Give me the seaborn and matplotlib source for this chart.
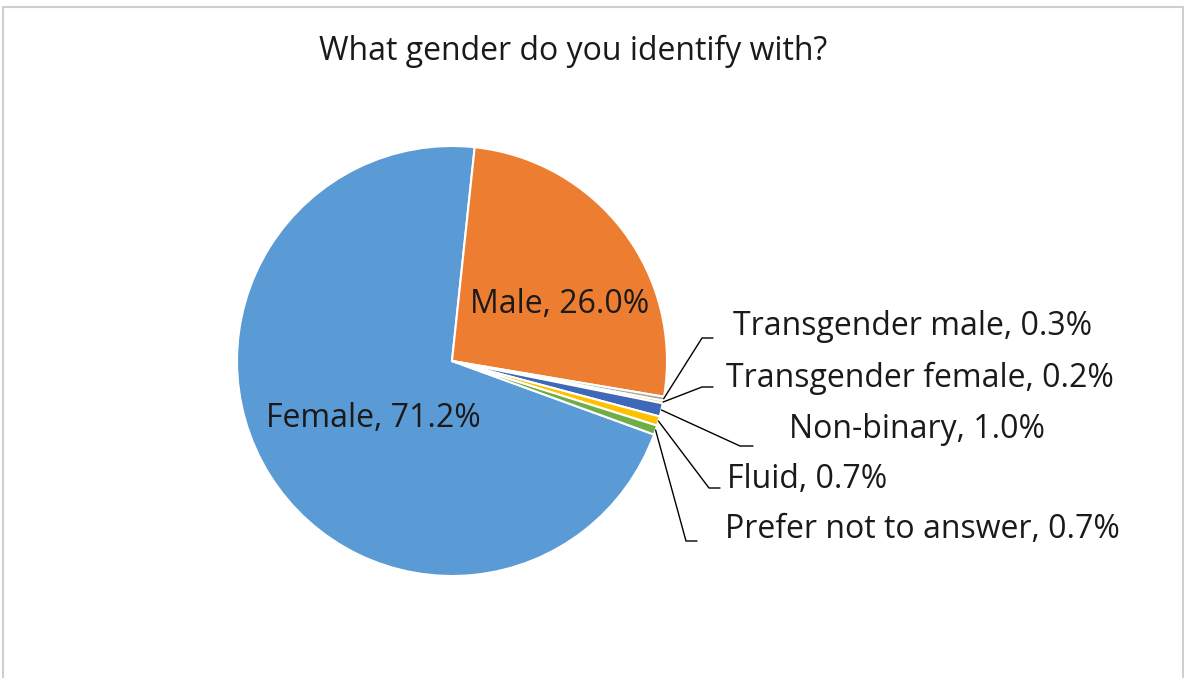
import numpy as np
import matplotlib
matplotlib.use('Agg')
import matplotlib.pyplot as plt
import seaborn as sns

sns.set_style('white')
plt.rcParams['font.family'] = ['Open Sans', 'DejaVu Sans']

# --- Data ---
categories = ['Female', 'Male', 'Transgender male', 'Transgender female',
              'Non-binary', 'Fluid', 'Prefer not to answer']
shares = [71.2, 26.0, 0.3, 0.2, 1.0, 0.7, 0.7]
colors = ['#5B9BD5', '#ED7D31', '#A5A5A5', '#FFC000', '#3E68B8', '#FFC000', '#70AD47']

# canvas in pixel units (y measured from the bottom)
W, H = 1184, 678
cx, cy, R = 452, H - 361, 215

fig = plt.figure(figsize=(W / 100, H / 100), dpi=100)
ax = fig.add_axes([0, 0, 1, 1])

# chart border
ax.plot([2.5, 2.5, 1182.5, 1182.5], [-5, H - 7, H - 7, -5], color='#CFCFCF', lw=1.5)

wedges, _ = ax.pie(shares, colors=colors, startangle=-20, counterclock=False,
                   center=(cx, cy), radius=R, frame=True,
                   wedgeprops=dict(edgecolor='white', linewidth=1.5))
ax.set_xlim(0, W)
ax.set_ylim(0, H)
ax.set_aspect('equal')
ax.axis('off')

ax.text(573, H - 60, 'What gender do you identify with?', ha='center', va='baseline',
        fontsize=23, color='#1a1a1a')

# inside labels
inside = {0: (373, 427), 1: (560, 313)}
for i, (tx, ty) in inside.items():
    ax.text(tx, H - ty, f'{categories[i]}, {shares[i]:.1f}%', ha='center', va='baseline',
            fontsize=23, color='#1a1a1a')

# outside labels: text left x, baseline y, elbow point, end of horizontal leader
outside = {
    2: (733, 335, (702, 338), (713, 338)),
    3: (726, 387, (702, 387), (713, 387)),
    4: (789, 438, (740, 446), (753, 446)),
    5: (727, 488, (709, 488), (720, 488)),
    6: (725, 538, (686, 541), (697, 541)),
}
for i, (tx, ty, elbow, end) in outside.items():
    w = wedges[i]
    mid = np.deg2rad((w.theta1 + w.theta2) / 2)
    ex, ey = cx + R * np.cos(mid), cy + R * np.sin(mid)
    ax.plot([ex, elbow[0], end[0]], [ey, H - elbow[1], H - end[1]], color='black', lw=1)
    ax.text(tx, H - ty, f'{categories[i]}, {shares[i]:.1f}%', ha='left', va='baseline',
            fontsize=23, color='#1a1a1a')

fig.savefig('out.png', dpi=100)
